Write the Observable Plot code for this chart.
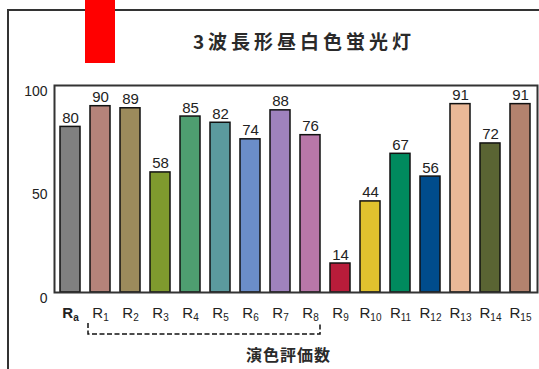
<!DOCTYPE html>
<html>
<head>
<meta charset="utf-8">
<script src="https://cdn.jsdelivr.net/npm/d3@7"></script>
<script src="https://cdn.jsdelivr.net/npm/@observablehq/plot@0.6"></script>
<style>
  html, body { margin: 0; padding: 0; background: #fff; overflow: hidden; }
  #wrap { position: relative; width: 539px; height: 369px; overflow: hidden; background: #fff; }
  #outer { position: absolute; left: 7px; top: 9px; width: 600px; height: 420px; border: 2px solid #333; box-sizing: border-box; }
  #redbox { position: absolute; left: 85px; top: 0; width: 30px; height: 63px; background: #ff0000; }
  #title { position: absolute; left: 0; width: 608px; top: 29px; text-align: center; font-family: "Noto Sans CJK JP", sans-serif; font-size: 19px; font-weight: bold; letter-spacing: 4px; color: #2a2a2a; line-height: 24px; white-space: nowrap; }
  #xlabel { position: absolute; left: 0; width: 577px; top: 344px; text-align: center; font-family: "Noto Sans CJK JP", sans-serif; font-size: 16px; font-weight: bold; letter-spacing: 1px; color: #2a2a2a; line-height: 20px; white-space: nowrap; }
  #chart { position: absolute; left: 0; top: 0; }
</style>
</head>
<body>
<div id="wrap">
  <div id="outer"></div>
  <div id="redbox"></div>
  <div id="title">3波長形昼白色蛍光灯</div>
  <div id="chart"></div>
  <div id="xlabel">演色評価数</div>
</div>
<script>
const categories = ["Ra","R1","R2","R3","R4","R5","R6","R7","R8","R9","R10","R11","R12","R13","R14","R15"];
const values = [80, 90, 89, 58, 85, 82, 74, 88, 76, 14, 44, 67, 56, 91, 72, 91];
const colors = ["#808080","#b5837a","#9c8b5c","#7f9a2e","#4e9e70","#5b9a9e","#6b8dc8","#9f82bd","#b877a8","#b81c3a","#e0c22e","#008a5e","#004c8c","#eab897","#5a6433","#b3826e"];
const yTicks = [0, 50, 100];

const data = categories.map((c, i) => ({cat: c, value: values[i]}));

const chart = Plot.plot({
  width: 539,
  height: 369,
  marginLeft: 54,
  marginRight: 2,
  marginTop: 85,
  marginBottom: 77,
  style: {fontFamily: "'Liberation Sans', Arial, sans-serif", background: "transparent", color: "#222"},
  x: {domain: categories, paddingInner: 0.33, paddingOuter: 0.17, axis: null, label: null},
  y: {domain: [0, 100], axis: null, label: null},
  color: {domain: categories, range: colors},
  marks: [
    Plot.barY(data, {x: "cat", y: "value", fill: "cat", stroke: "#111", strokeWidth: 1.5}),
    Plot.text(data, {x: "cat", y: "value", text: d => String(d.value), dy: -4, lineAnchor: "bottom", fontSize: 15, fill: "#222"}),
    Plot.frame({stroke: "#333", strokeWidth: 2}),
    Plot.axisY({ticks: yTicks, tickSize: 0, tickPadding: 7, dy: 6, fontSize: 14, fill: "#222", label: null}),
    Plot.axisX({tickSize: 0, tickPadding: 15, fontSize: 15, fill: "#222", label: null})
  ]
});
document.getElementById("chart").appendChild(chart);

// subscripts on x tick labels
d3.select(chart).selectAll('g[aria-label="x-axis tick label"] text').each(function() {
  const t = d3.select(this);
  const s = t.text();
  t.text(null);
  const main = t.append("tspan").text(s.slice(0, 1));
  const sub = t.append("tspan").attr("font-size", 10).attr("dy", 3).text(s.slice(1));
  if (s === "Ra") { main.attr("font-weight", "bold"); sub.attr("font-weight", "bold"); }
});

// dashed bracket under R1..R8
const xs = chart.scale("x");
const left = xs.apply("R1") - 2;
const right = xs.apply("R8") + xs.bandwidth;
d3.select(chart).append("path")
  .attr("d", `M${left},323V334H${right}V323`)
  .attr("fill", "none")
  .attr("stroke", "#111")
  .attr("stroke-width", 1.5)
  .attr("stroke-dasharray", "5,2.5");
</script>
</body>
</html>
